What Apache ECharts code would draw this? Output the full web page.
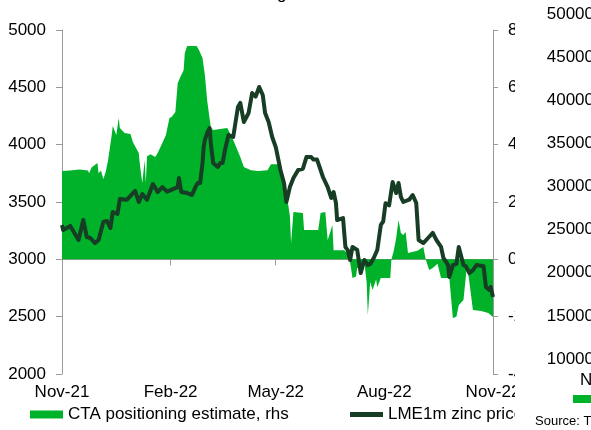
<!DOCTYPE html>
<html><head><meta charset="utf-8">
<script src="https://cdn.jsdelivr.net/npm/echarts@6/dist/echarts.min.js"></script>
<style>html,body{margin:0;padding:0;background:#fff}#c{width:591px;height:430px}</style>
</head><body><div id="c"></div>
<script>
// x values are days since 1 Nov 2021
const xTickDays = [0, 92, 181, 273, 365];
const xTickLabels = ['Nov-21', 'Feb-22', 'May-22', 'Aug-22', 'Nov-22'];
const leftTicks = [2000, 5000, 500];
const rightTicks = [-4, 8, 2];
const secondChartTicks = [10000, 50000, 5000];

const ctaName = 'CTA positioning estimate, rhs';
const ctaDays = [0,7,15,22,23,25,30,31,33,35,37,39,42,43,46,48,49,53,58,60,65,66,68,70,71,72,75,79,81,85,88,91,93,96,98,101,103,104,106,111,114,116,119,121,123,126,128,134,140,145,151,154,160,166,174,177,183,187,191,193,194,196,204,205,217,219,223,225,229,230,239,243,244,246,249,250,253,256,258,259,261,263,266,267,270,278,279,281,283,285,287,289,291,293,301,306,308,311,314,318,321,328,331,334,336,340,343,345,348,355,361,365];
const ctaValues = [3.08,3.1,3.13,3.1,3.0,3.2,3.36,3.0,3.1,2.8,3.05,3.46,4.3,4.65,4.34,4.93,4.58,4.41,4.37,4.09,3.71,3.29,2.66,3.46,2.66,3.6,3.67,3.57,3.71,4.06,4.34,4.93,4.97,5.14,6.15,6.43,6.6,7.2,7.44,7.44,7.44,7.3,7.02,6.43,5.52,4.61,4.51,4.55,4.58,4.16,3.57,3.22,3.11,3.08,3.11,3.32,3.32,3.01,2.07,1.5,0.57,1.65,1.62,1.02,1.02,1.62,1.65,0.67,1.2,0.32,0.32,0.15,-0.1,-0.65,-0.6,-0.3,-0.3,-0.1,-0.79,-1.94,-0.79,-1.07,-0.7,-0.97,-0.65,-0.65,0,0.3,0.74,1.37,0.92,0.85,0.95,0.22,0.3,0.43,0,-0.37,-0.3,-0.15,-0.65,-0.65,-2.05,-2.0,-1.6,-1.42,-0.2,-0.8,-1.77,-1.8,-1.87,-2.01];

const zincName = 'LME1m zinc price';
const zincDays = [0,1,7,14,18,21,24,28,31,35,38,41,43,47,49,55,62,65,68,72,77,81,85,89,98,99,101,106,110,113,115,117,119,120,121,123,125,126,128,132,134,136,138,141,145,149,151,154,158,161,164,167,170,172,175,178,181,185,188,190,193,196,200,204,207,211,213,216,221,225,228,230,232,233,238,240,242,244,246,250,253,256,259,261,264,267,270,272,274,277,280,283,285,287,289,294,297,300,302,306,310,314,317,321,323,327,328,331,334,336,340,342,345,348,351,357,359,362,363,365];
const zincValues = [3299,3256,3291,3169,3343,3195,3186,3142,3169,3326,3335,3273,3413,3396,3526,3520,3596,3500,3570,3520,3657,3587,3630,3590,3630,3709,3587,3578,3561,3630,3666,3666,3840,3980,4041,4102,4145,4015,3840,3805,3840,3840,3953,4084,4067,4328,4364,4198,4276,4450,4420,4503,4433,4276,4198,4067,3980,3779,3666,3500,3630,3709,3779,3790,3892,3892,3870,3870,3718,3630,3535,3587,3491,3343,3360,3108,3080,2994,3108,3081,2880,2994,2950,2960,3012,3081,3300,3330,3490,3470,3674,3578,3666,3544,3500,3520,3561,3491,3169,3142,3186,3230,3169,3108,3012,2950,2846,2950,2960,3108,2950,2940,2880,2906,2950,2940,2759,2733,2759,2672];

const FONT = 'Liberation Sans, Arial, sans-serif';
const GREEN = '#00b22a';
const DARK = '#173d25';
const AXIS = '#9a9a9a';

const chart = echarts.init(document.getElementById('c'), null, {renderer: 'canvas'});
const pairs = (xs, ys) => xs.map((x, i) => [x, ys[i]]);
const plain = v => String(v);

chart.setOption({
  animation: false,
  backgroundColor: '#fff',
  textStyle: {fontFamily: FONT},
  grid: [
    {left: 62, right: 98, top: 30, bottom: 56},
    {left: 600, width: 100, top: 14, bottom: 71}
  ],
  xAxis: [
    {
      type: 'value', gridIndex: 0, min: 0, max: 365,
      axisLine: {show: true, lineStyle: {color: AXIS, width: 1}},
      axisTick: {show: true, length: 6, lineStyle: {color: AXIS}, customValues: xTickDays},
      axisLabel: {
        show: true, customValues: xTickDays, margin: 10,
        fontSize: 17, color: '#000', fontFamily: FONT,
        formatter: v => xTickLabels[xTickDays.indexOf(v)] || ''
      },
      splitLine: {show: false}
    },
    {type: 'value', gridIndex: 1, min: 0, max: 1, show: false}
  ],
  yAxis: [
    {
      type: 'value', gridIndex: 0, position: 'left',
      min: leftTicks[0], max: leftTicks[1], interval: leftTicks[2],
      axisLine: {show: true, lineStyle: {color: AXIS}},
      axisTick: {show: true, length: 6, lineStyle: {color: AXIS}},
      axisLabel: {fontSize: 17, color: '#000', margin: 16, fontFamily: FONT, formatter: plain},
      splitLine: {show: false}
    },
    {
      type: 'value', gridIndex: 0, position: 'right',
      min: rightTicks[0], max: rightTicks[1], interval: rightTicks[2],
      axisLine: {show: true, lineStyle: {color: AXIS}},
      axisTick: {show: true, length: 5, lineStyle: {color: AXIS}},
      axisLabel: {fontSize: 17, color: '#000', margin: 15, fontFamily: FONT, formatter: plain},
      splitLine: {show: false}
    },
    {
      type: 'value', gridIndex: 1, position: 'left', z: 200,
      min: secondChartTicks[0], max: secondChartTicks[1], interval: secondChartTicks[2],
      axisLine: {show: false}, axisTick: {show: false},
      axisLabel: {fontSize: 17, color: '#000', margin: 6, fontFamily: FONT, formatter: plain},
      splitLine: {show: false}
    }
  ],
  legend: [
    {
      data: [ctaName], left: 30, top: 406, padding: 0, selectedMode: false,
      icon: 'rect', itemWidth: 33, itemHeight: 8,
      textStyle: {fontSize: 17, color: '#000', fontFamily: FONT}
    },
    {
      data: [zincName], left: 350, top: 406, padding: 0, selectedMode: false,
      icon: 'rect', itemWidth: 33, itemHeight: 5,
      textStyle: {fontSize: 17, color: '#000', fontFamily: FONT}
    }
  ],
  graphic: [
    {type: 'rect', left: 515, top: 0, z: 100, shape: {width: 80, height: 430}, style: {fill: '#fff'}},
    {type: 'text', x: 277, y: -14, z: 101, style: {text: 'g', font: '17px ' + FONT, fill: '#000'}},
    {type: 'text', x: 580, y: 372, z: 101, style: {text: 'Nov-21', font: '17px ' + FONT, fill: '#000'}},
    {type: 'rect', x: 573, y: 395, z: 101, shape: {width: 30, height: 8}, style: {fill: GREEN}},
    {type: 'text', x: 535, y: 415, z: 101, style: {text: 'Source: T', font: '13px ' + FONT, fill: '#000'}}
  ],
  series: [
    {
      name: ctaName, type: 'line', xAxisIndex: 0, yAxisIndex: 1,
      data: pairs(ctaDays, ctaValues),
      showSymbol: false, symbol: 'none', color: GREEN,
      lineStyle: {width: 0, opacity: 0},
      areaStyle: {color: GREEN, opacity: 1, origin: 0},
      z: 2
    },
    {
      name: zincName, type: 'line', xAxisIndex: 0, yAxisIndex: 0,
      data: pairs(zincDays, zincValues),
      showSymbol: false, symbol: 'none', color: DARK,
      lineStyle: {width: 4, color: DARK, join: 'round'},
      z: 3
    }
  ]
});
</script>
</body></html>
